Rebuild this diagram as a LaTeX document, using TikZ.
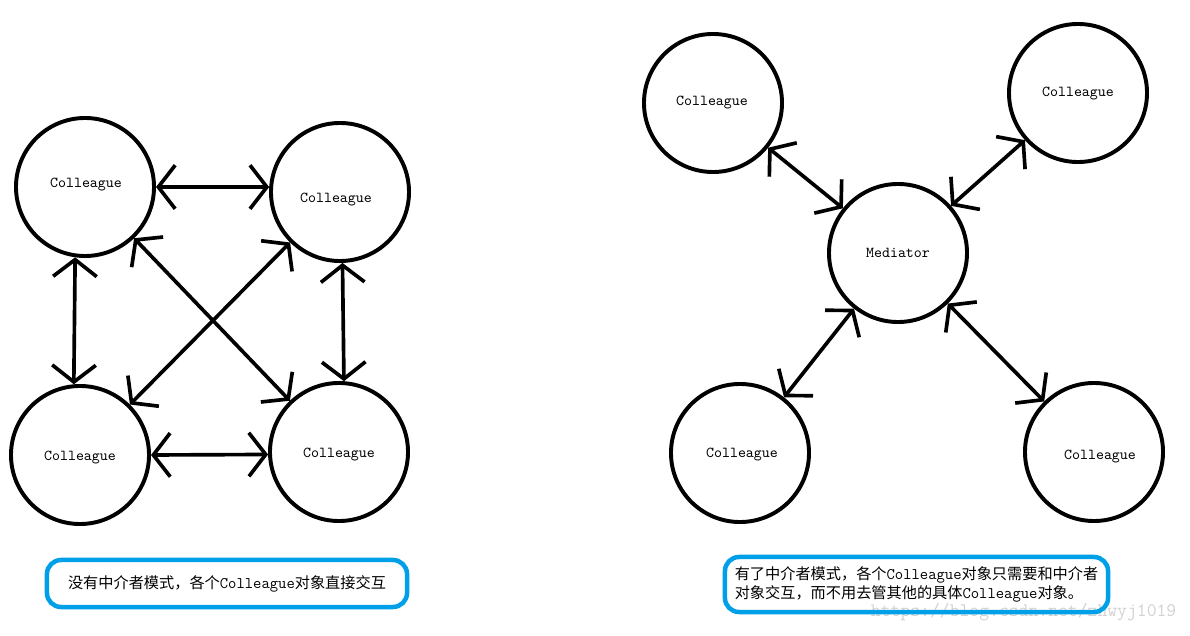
\documentclass[tikz,border=0pt]{standalone}
\usepackage{fontspec}
\setmainfont{Noto Sans CJK SC}
\usepackage{xcolor}
\usepackage{tikz}
\usetikzlibrary{positioning, arrows.meta}
\definecolor{capblue}{RGB}{0,160,233}

\begin{document}
\begin{tikzpicture}[
    x=0.025cm, y=-0.025cm,
    obj/.style={draw, circle, line width=2.8pt, inner sep=0pt, minimum size=3.45cm, font=\fontsize{10.8}{12}\ttfamily},
    lab/.style={font=\fontsize{10.8}{12}\ttfamily},
    link/.style={line width=2.6pt, {Straight Barb[length=12pt,width=31pt]}-{Straight Barb[length=12pt,width=31pt]}},
    caption/.style={draw=capblue, line width=3.2pt, rounded corners=10pt, inner sep=0pt, font=\fontsize{10.8}{14}\selectfont, align=left},
]
\useasboundingbox (0,0) rectangle (1190,636);

\node[obj] (tl) at (85, 187) {};
\node[obj] (tr) at (340, 192) {};
\node[obj] (bl) at (80, 455) {};
\node[obj] (br) at (339, 452) {};
\node[lab] (tllab) at (86, 185) {Colleague};
\node[lab] (trlab) at (336, 200) {Colleague};
\node[lab] (bllab) at (80, 458) {Colleague};
\node[lab] (brlab) at (339, 455) {Colleague};

\draw[link] (tl.0) -- (tr.176);
\draw[link] (bl.0) -- (br.182);
\draw[link] (tl.262) -- (bl.95);
\draw[link] (tr.272) -- (br.86);
\draw[link] (tl) -- (br);
\draw[link] (tr) -- (bl);

\node[obj] (med) at (898, 253) {Mediator};
\node[obj] (c1) at (713, 103) {};
\node[obj] (c2) at (1078, 93) {};
\node[obj] (c3) at (740, 453) {};
\node[obj] (c4) at (1094, 452) {};
\node[lab] (c1lab) at (712, 103) {Colleague};
\node[lab] (c2lab) at (1078, 94) {Colleague};
\node[lab] (c3lab) at (742, 455) {Colleague};
\node[lab] (c4lab) at (1100, 457) {Colleague};

\draw[link] (c1) -- (med);
\draw[link] (c2) -- (med);
\draw[link] (c3) -- (med);
\draw[link] (c4) -- (med);

\node[text=black!18, font=\fontsize{13.6}{15}\ttfamily, anchor=west] (mark) at (866, 612) {https://blog.csdn.net/zhwyj1019};

\node[caption, minimum width=9cm, minimum height=1.175cm] (cap1) at (227, 583.5)
    {没有中介者模式，各个\texttt{\fontsize{11.5}{14}\selectfont Colleague}对象直接交互};
\node[caption, minimum width=9.575cm, minimum height=1.375cm] (cap2) at (916.5, 584.5)
    {有了中介者模式，各个\texttt{\fontsize{11.5}{14}\selectfont Colleague}对象只需要和中介者\\
     对象交互，而不用去管其他的具体\texttt{\fontsize{11.5}{14}\selectfont Colleague}对象。};
\end{tikzpicture}
\end{document}
